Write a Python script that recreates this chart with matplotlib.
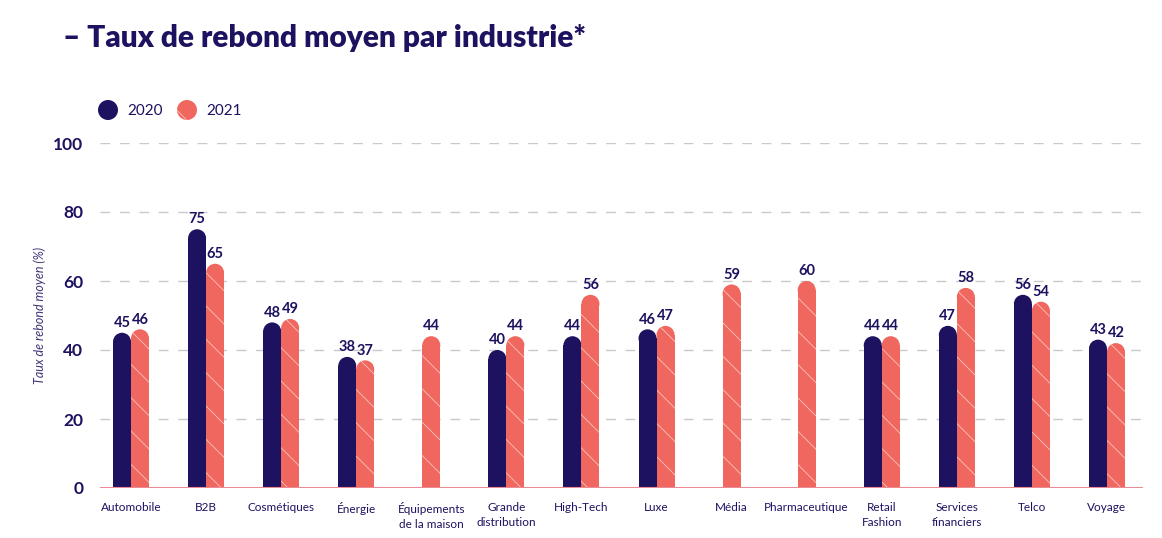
import matplotlib
matplotlib.use("Agg")
from matplotlib import pyplot as plt
from matplotlib.patches import Ellipse
import numpy as np

categories = ["Automobile", "B2B", "Cosmétiques", "Énergie", "Équipements\nde la maison",
              "Grande\ndistribution", "High-Tech", "Luxe", "Média", "Pharmaceutique",
              "Retail\nFashion", "Services\nfinanciers", "Telco", "Voyage"]
values_2020 = [45, 75, 48, 38, None, 40, 44, 46, None, None, 44, 47, 56, 43]
values_2021 = [46, 65, 49, 37, 44, 44, 56, 47, 59, 60, 44, 58, 54, 42]
y_ticks = [0, 20, 40, 60, 80, 100]

NAVY = "#1C1260"
CORAL = "#F0675F"

plt.rcParams["font.family"] = ["Lato", "DejaVu Sans"]
plt.rcParams["hatch.linewidth"] = 0.6

W, H = 1162, 538
fig = plt.figure(figsize=(W / 100, H / 100), dpi=100)
left_px, right_px, bottom_px, top_px = 100, 1143, 488, 143
ax = fig.add_axes([left_px / W, (H - bottom_px) / H,
                   (right_px - left_px) / W, (bottom_px - top_px) / H])

xmin, xmax = -0.413, 13.48
ax.set_xlim(xmin, xmax)
ax.set_ylim(0, 100)

px_per_x = (right_px - left_px) / (xmax - xmin)
px_per_y = (bottom_px - top_px) / 100
bw = 18 / px_per_x
r = (18 / 2) / px_per_y  # cap radius in data units
stripe_col = "#FBC2BD"


def rounded_bar(x, v, color, hatch=None):
    kw = dict(color=color, linewidth=0, zorder=3)
    if hatch:
        kw.update(edgecolor=stripe_col, hatch=hatch)
    ax.bar(x, v - r, width=bw, **kw)
    cap = Ellipse((x, v - r), bw, 2 * r, facecolor=color, linewidth=0, zorder=3,
                  edgecolor=stripe_col if hatch else color, hatch=hatch)
    ax.add_patch(cap)
    ax.annotate(str(v), (x, v), xytext=(0, 2), textcoords="offset points",
                ha="center", va="bottom", fontsize=10.5, fontweight="bold", color=NAVY)


for i, (a, b) in enumerate(zip(values_2020, values_2021)):
    if a is not None and b is not None:
        rounded_bar(i - bw / 2, a, NAVY)
        rounded_bar(i + bw / 2, b, CORAL, hatch="\\")
    elif b is not None:
        rounded_bar(i, b, CORAL, hatch="\\")
    elif a is not None:
        rounded_bar(i, a, NAVY)

for y in y_ticks[1:]:
    ax.axhline(y, color="#C9C9C9", linewidth=1, dashes=(7, 7), zorder=1)
ax.axhline(0, color="#EE8A93", linewidth=1.5, zorder=4)

for s in ax.spines.values():
    s.set_visible(False)
ax.set_yticks(y_ticks)
ax.set_yticklabels([str(t) for t in y_ticks], fontsize=12.5, fontweight="bold", color=NAVY)
ax.tick_params(axis="y", length=0, pad=12)
ax.set_xticks(np.arange(len(categories)))
ax.set_xticklabels(categories, fontsize=8.5, color=NAVY, linespacing=1.45)
ax.tick_params(axis="x", length=0, pad=10)
ax.set_ylabel("Taux de rebond moyen (%)", fontsize=9, style="italic", color="#3E3578",
              labelpad=5)

fig.text(63 / W, 1 - 38 / H, "– Taux de rebond moyen par industrie*", fontsize=21.5,
         fontweight="heavy", color=NAVY, va="center", ha="left")

# legend
fig.patches.append(Ellipse((108 / W, 1 - 110 / H), 20 / W, 20 / H, facecolor=NAVY,
                           transform=fig.transFigure, linewidth=0))
fig.text(127 / W, 1 - 111 / H, "2020", fontsize=11, color=NAVY, va="center")
fig.patches.append(Ellipse((187 / W, 1 - 110 / H), 20 / W, 20 / H, facecolor=CORAL,
                           edgecolor=stripe_col, hatch="\\", linewidth=0,
                           transform=fig.transFigure))
fig.text(206 / W, 1 - 111 / H, "2021", fontsize=11, color=NAVY, va="center")

fig.savefig("out.png", dpi=100)
